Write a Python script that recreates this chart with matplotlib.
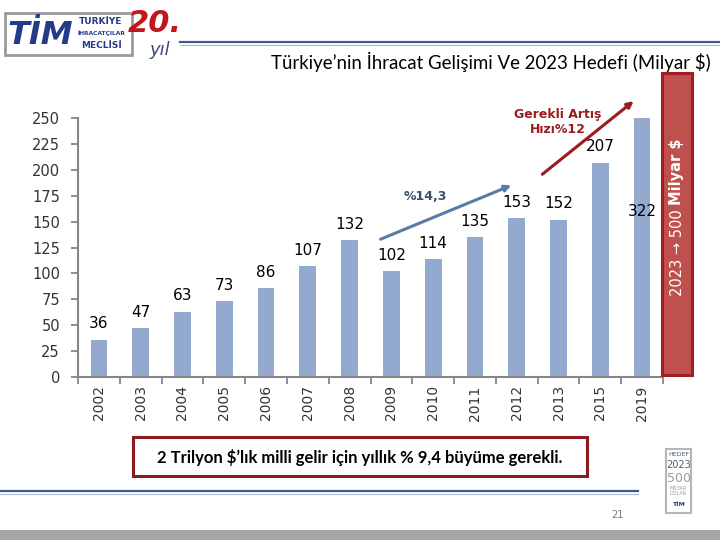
import matplotlib
matplotlib.use("Agg")
from matplotlib import pyplot as plt
from matplotlib.patches import Rectangle
from matplotlib.lines import Line2D

# Veriler (milyar $)
yillar = ["2002", "2003", "2004", "2005", "2006", "2007", "2008",
          "2009", "2010", "2011", "2012", "2013", "2015", "2019"]
ihracat = [36, 47, 63, 73, 86, 107, 132, 102, 114, 135, 153, 152, 207, 322]
y_ticks = [0, 25, 50, 75, 100, 125, 150, 175, 200, 225, 250]

baslik = "Türkiye’nin İhracat Gelişimi Ve 2023 Hedefi (Milyar $)"
alt_not = "2 Trilyon $’lık milli gelir için yıllık % 9,4 büyüme gerekli."

W, H = 720, 540
fig = plt.figure(figsize=(7.2, 5.4), dpi=100)
fig.patch.set_facecolor("white")


def fx(px):
    return px / W


def fy(py):
    return (H - py) / H


# --- ana grafik ---
ax = fig.add_axes([fx(78), fy(377), fx(663) - fx(78), fy(118) - fy(377)])
x = list(range(len(yillar)))
ax.bar(x, ihracat, width=0.4, color="#94A9CE", zorder=2)
ax.set_xlim(-0.5, len(yillar) - 0.5)
ax.set_ylim(0, 250)

for xi, v in zip(x, ihracat):
    if v > 250:
        # 2019 sütunu eksen dışına taşıyor, etiketi sütunun içinde
        ax.text(xi, 160, str(v), ha="center", va="center", fontsize=11, color="black")
    else:
        ax.annotate(str(v), (xi, v), xytext=(0, 6), textcoords="offset points",
                    ha="center", va="bottom", fontsize=11, color="black")

ax.set_yticks(y_ticks)
ax.set_xticks(x)
ax.set_xticklabels(yillar, rotation=90, fontsize=10, color="#333333")
ax.set_xticks([i - 0.5 for i in range(len(yillar) + 1)], minor=True)
ax.tick_params(axis="x", which="major", length=0, pad=6)
ax.tick_params(axis="x", which="minor", length=5, width=1.3, color="#868686")
ax.tick_params(axis="y", length=5, width=1.3, color="#868686", labelsize=10.5,
               labelcolor="#333333", pad=8)
for s in ["top", "right"]:
    ax.spines[s].set_visible(False)
for s in ["left", "bottom"]:
    ax.spines[s].set_color("#868686")
    ax.spines[s].set_linewidth(1.5)

# eğilim okları
ax.annotate("", xy=(9.93, 186), xytext=(6.68, 132),
            arrowprops=dict(arrowstyle="-|>", color="#5A7BA8", lw=2.2,
                            mutation_scale=9), annotation_clip=False)
ax.text(7.8, 174, "%14,3", ha="center", va="center", fontsize=9,
        color="#3B4E6E", fontweight="bold")
ax.annotate("", xy=(12.85, 268), xytext=(10.56, 194),
            arrowprops=dict(arrowstyle="-|>", color="#9B1B1F", lw=2.2,
                            mutation_scale=9), annotation_clip=False)
ax.text(10.99, 246, "Gerekli Artış\nHızı%12", ha="center", va="center",
        fontsize=9, color="#9B1B1F", fontweight="bold", linespacing=1.2,
        clip_on=False)

# sağdaki kırmızı kutu
fig.patches.append(Rectangle((fx(662), fy(375)), fx(692) - fx(662), fy(73) - fy(375),
                             transform=fig.transFigure, facecolor="#C0504D",
                             edgecolor="#A01E22", lw=2.2))
fig.text(fx(677), fy(296), "2023 → 500 ", rotation=90, ha="center", va="bottom",
         color="white", fontsize=10.5)
fig.text(fx(677), fy(205), "Milyar $", rotation=90, ha="center", va="bottom",
         color="white", fontsize=10.5, fontweight="bold")

# başlık ve üst çizgi
fig.text(fx(491), fy(62), baslik, ha="center", va="center", fontsize=13.4,
         family="Lato", color="black")
fig.lines.append(Line2D([fx(180), fx(720)], [fy(42), fy(42)], transform=fig.transFigure,
                        color="#3D5A8C", lw=1.6))
fig.lines.append(Line2D([fx(180), fx(720)], [fy(45), fy(45)], transform=fig.transFigure,
                        color="#A9B8D2", lw=0.8))

# TİM logosu
fig.patches.append(Rectangle((fx(5), fy(55)), fx(132) - fx(5), fy(13) - fy(55),
                             transform=fig.transFigure, facecolor="white",
                             edgecolor="#9A9A9A", lw=2))
fig.text(fx(40), fy(35), "TİM", ha="center", va="center", fontsize=23,
         fontweight="bold", color="#253A8A", family="DejaVu Sans Condensed",
         fontstyle="italic")
fig.text(fx(101), fy(21), "TURKİYE", ha="center", va="center", fontsize=6.5,
         fontweight="bold", color="#253A8A", family="DejaVu Sans Condensed")
fig.text(fx(101), fy(33), "İHRACATÇILAR", ha="center", va="center", fontsize=4.3,
         fontweight="bold", color="#253A8A", family="DejaVu Sans Condensed")
fig.text(fx(101), fy(45), "MECLİSİ", ha="center", va="center", fontsize=6.5,
         fontweight="bold", color="#253A8A", family="DejaVu Sans Condensed")
fig.text(fx(155), fy(24), "20.", ha="center", va="center", fontsize=22,
         fontweight="bold", fontstyle="italic", color="#C0171D")
fig.text(fx(160), fy(50), "yıl", ha="center", va="center", fontsize=13,
         fontstyle="italic", color="#3A4A7A")

# alt not kutusu
fig.patches.append(Rectangle((fx(133), fy(476)), fx(587) - fx(133), fy(437) - fy(476),
                             transform=fig.transFigure, facecolor="white",
                             edgecolor="#8E1B1F", lw=2.2))
fig.text(fx(360), fy(457), alt_not, ha="center", va="center", fontsize=12,
         fontweight="bold", family="Lato", color="black")

# alt çizgi, sayfa no, gri şerit
fig.lines.append(Line2D([0, fx(638)], [fy(491), fy(491)], transform=fig.transFigure,
                        color="#3D5A8C", lw=1.6))
fig.lines.append(Line2D([0, fx(638)], [fy(494), fy(494)], transform=fig.transFigure,
                        color="#A9B8D2", lw=0.8))
fig.text(fx(617), fy(515), "21", ha="center", va="center", fontsize=7, color="#777777")
fig.patches.append(Rectangle((0, 0), 1, fy(530), transform=fig.transFigure,
                             facecolor="#A6A6A6", edgecolor="none"))

# HEDEF 2023 logosu
fig.patches.append(Rectangle((fx(666), fy(513)), fx(691) - fx(666), fy(449) - fy(513),
                             transform=fig.transFigure, facecolor="white",
                             edgecolor="#B5B5B5", lw=1.5))
fig.text(fx(678.5), fy(455), "HEDEF", ha="center", va="center", fontsize=4.5, color="#4A5A80")
fig.text(fx(678.5), fy(465), "2023", ha="center", va="center", fontsize=7, color="#4A5A80")
fig.text(fx(678.5), fy(479), "500", ha="center", va="center", fontsize=9, color="#9A9A9A")
fig.text(fx(678.5), fy(491), "MİLYAR\nDOLAR", ha="center", va="center", fontsize=3.5,
         color="#9A9A9A", linespacing=1.0)
fig.text(fx(678.5), fy(504), "TİM", ha="center", va="center", fontsize=4.5,
         fontweight="bold", color="#253A8A")

fig.savefig("out.png", dpi=100)
